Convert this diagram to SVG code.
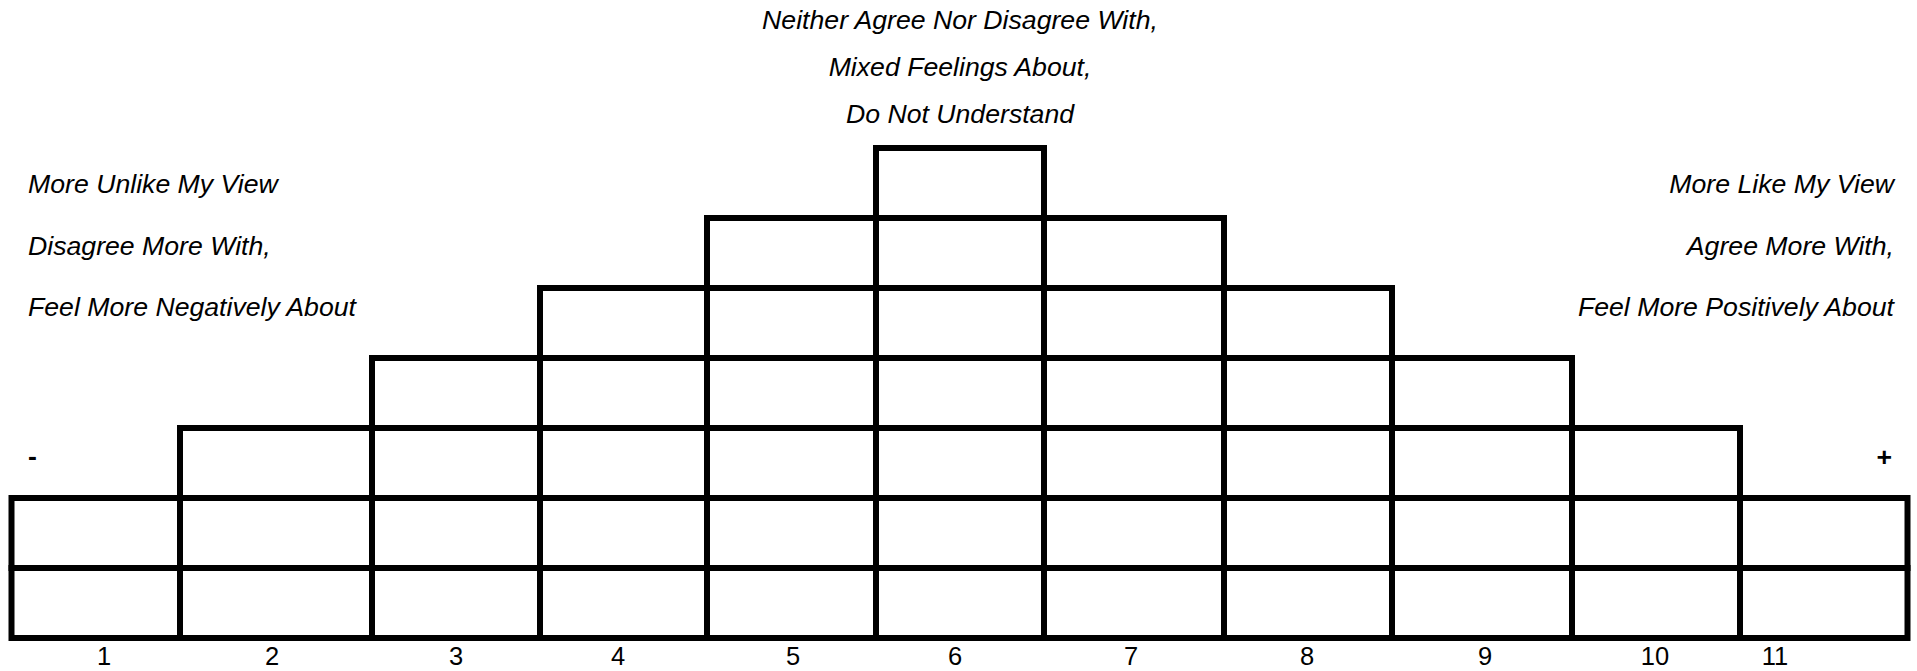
<svg xmlns="http://www.w3.org/2000/svg" width="1917" height="671" viewBox="0 0 1917 671">
<style>
.cell{fill:none;stroke:#000;stroke-width:6;stroke-linejoin:miter}
.lbl{font-family:"Liberation Sans",Arial,sans-serif;font-style:italic;font-size:26.67px;fill:#000}
.num{font-family:"Liberation Sans",Arial,sans-serif;font-size:25.5px;fill:#000;text-anchor:middle}
.sign{font-family:"Liberation Sans",Arial,sans-serif;font-weight:bold;font-size:26.67px;fill:#000}
</style>
<rect width="1917" height="671" fill="#fff"/>
<g id="labels-center" class="lbl" text-anchor="middle">
<text x="960" y="29">Neither Agree Nor Disagree With,</text>
<text x="960" y="76">Mixed Feelings About,</text>
<text x="960" y="123">Do Not Understand</text>
</g>
<g id="labels-left" class="lbl">
<text x="28" y="193">More Unlike My View</text>
<text x="28" y="255">Disagree More With,</text>
<text x="28" y="316">Feel More Negatively About</text>
</g>
<g id="labels-right" class="lbl" text-anchor="end">
<text x="1894" y="193">More Like My View</text>
<text x="1894" y="255">Agree More With,</text>
<text x="1894" y="316">Feel More Positively About</text>
</g>
<text id="minus" class="sign" x="28" y="465">-</text>
<text id="plus" class="sign" x="1892" y="466" text-anchor="end">+</text>
<g id="col1"><rect class="cell" x="11.5" y="498" width="168.5" height="70"/><rect class="cell" x="11.5" y="568" width="168.5" height="70"/></g>
<g id="col2"><rect class="cell" x="180" y="428" width="192" height="70"/><rect class="cell" x="180" y="498" width="192" height="70"/><rect class="cell" x="180" y="568" width="192" height="70"/></g>
<g id="col3"><rect class="cell" x="372" y="358" width="168" height="70"/><rect class="cell" x="372" y="428" width="168" height="70"/><rect class="cell" x="372" y="498" width="168" height="70"/><rect class="cell" x="372" y="568" width="168" height="70"/></g>
<g id="col4"><rect class="cell" x="540" y="288" width="167" height="70"/><rect class="cell" x="540" y="358" width="167" height="70"/><rect class="cell" x="540" y="428" width="167" height="70"/><rect class="cell" x="540" y="498" width="167" height="70"/><rect class="cell" x="540" y="568" width="167" height="70"/></g>
<g id="col5"><rect class="cell" x="707" y="218" width="169" height="70"/><rect class="cell" x="707" y="288" width="169" height="70"/><rect class="cell" x="707" y="358" width="169" height="70"/><rect class="cell" x="707" y="428" width="169" height="70"/><rect class="cell" x="707" y="498" width="169" height="70"/><rect class="cell" x="707" y="568" width="169" height="70"/></g>
<g id="col6"><rect class="cell" x="876" y="148" width="168" height="70"/><rect class="cell" x="876" y="218" width="168" height="70"/><rect class="cell" x="876" y="288" width="168" height="70"/><rect class="cell" x="876" y="358" width="168" height="70"/><rect class="cell" x="876" y="428" width="168" height="70"/><rect class="cell" x="876" y="498" width="168" height="70"/><rect class="cell" x="876" y="568" width="168" height="70"/></g>
<g id="col7"><rect class="cell" x="1044" y="218" width="180" height="70"/><rect class="cell" x="1044" y="288" width="180" height="70"/><rect class="cell" x="1044" y="358" width="180" height="70"/><rect class="cell" x="1044" y="428" width="180" height="70"/><rect class="cell" x="1044" y="498" width="180" height="70"/><rect class="cell" x="1044" y="568" width="180" height="70"/></g>
<g id="col8"><rect class="cell" x="1224" y="288" width="168" height="70"/><rect class="cell" x="1224" y="358" width="168" height="70"/><rect class="cell" x="1224" y="428" width="168" height="70"/><rect class="cell" x="1224" y="498" width="168" height="70"/><rect class="cell" x="1224" y="568" width="168" height="70"/></g>
<g id="col9"><rect class="cell" x="1392" y="358" width="180" height="70"/><rect class="cell" x="1392" y="428" width="180" height="70"/><rect class="cell" x="1392" y="498" width="180" height="70"/><rect class="cell" x="1392" y="568" width="180" height="70"/></g>
<g id="col10"><rect class="cell" x="1572" y="428" width="168" height="70"/><rect class="cell" x="1572" y="498" width="168" height="70"/><rect class="cell" x="1572" y="568" width="168" height="70"/></g>
<g id="col11"><rect class="cell" x="1740" y="498" width="167.5" height="70"/><rect class="cell" x="1740" y="568" width="167.5" height="70"/></g>
<g id="numbers" class="num">
<text x="104" y="665">1</text>
<text x="272" y="665">2</text>
<text x="456" y="665">3</text>
<text x="618" y="665">4</text>
<text x="793" y="665">5</text>
<text x="955" y="665">6</text>
<text x="1131" y="665">7</text>
<text x="1307" y="665">8</text>
<text x="1485" y="665">9</text>
<text x="1655" y="665">10</text>
<text x="1775" y="665">11</text>
</g>
</svg>
